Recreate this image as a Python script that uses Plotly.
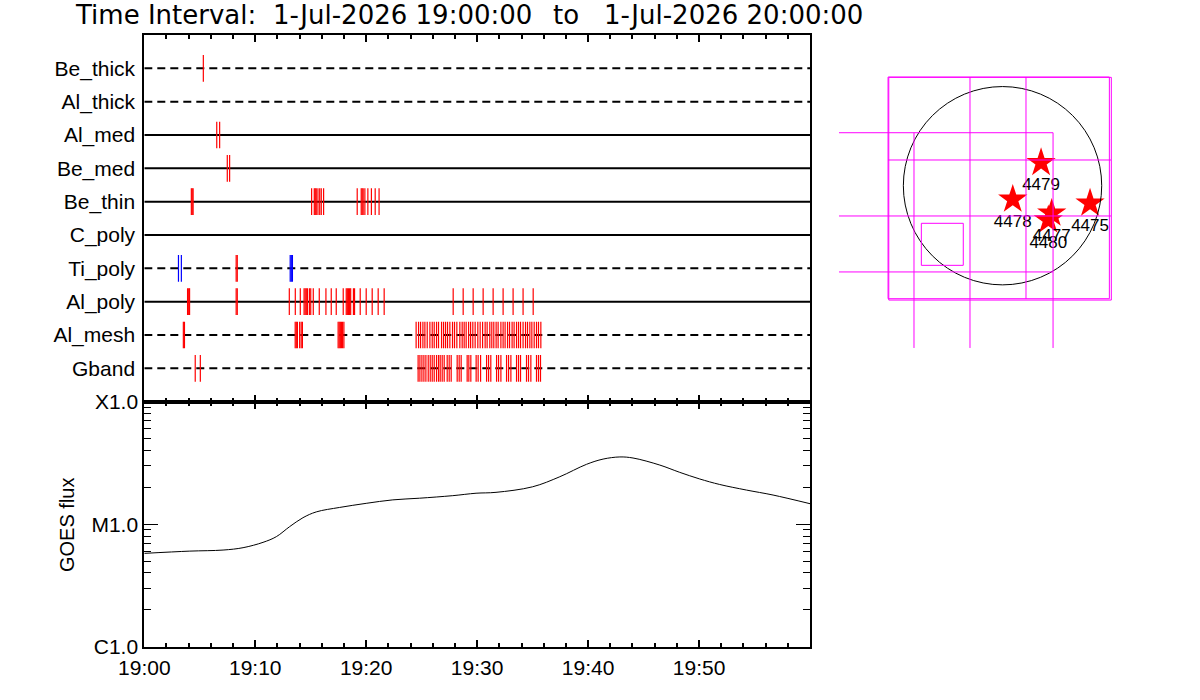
import plotly.graph_objects as go

# time in minutes after 19:00 UT, 1-Jul-2026
tick_minutes = [0, 10, 20, 30, 40, 50]
tick_labels = ["19:00", "19:10", "19:20", "19:30", "19:40", "19:50"]

channels = ["Be_thick", "Al_thick", "Al_med", "Be_med", "Be_thin",
            "C_poly", "Ti_poly", "Al_poly", "Al_mesh", "Gband"]
channel_dashed = [True, True, False, False, False, False, True, False, True, True]

# exposure times per channel (red = normal, blue = flagged)
be_thick = [5.32]
al_thick = []
al_med = [6.53, 6.79]
be_med = [7.48, 7.69]
be_thin = [4.24, 4.32, 4.40,
           15.08, 15.32, 15.41, 15.50, 15.65, 15.81, 15.95, 16.16,
           19.19, 19.55, 19.64, 19.73, 19.88, 20.15, 20.47, 20.81, 21.16]
c_poly = []
ti_poly = [8.28, 8.38]
ti_poly_blue = [3.08, 3.34, 13.15, 13.25, 13.35]
al_poly = [3.90, 4.00, 4.08, 8.28, 8.38,
           13.07, 13.61, 14.06, 14.40, 14.50, 14.60, 14.70, 14.88, 15.00, 15.23,
           15.77, 16.37, 16.85, 17.30, 17.93, 18.20, 18.30, 18.40, 18.50, 18.60,
           18.85, 18.95, 19.46, 20.00, 20.54, 21.08, 21.62,
           27.84, 28.74, 29.64, 30.54, 31.44, 32.34, 33.24, 34.14, 35.05]
al_mesh = [3.52, 3.62, 13.60, 13.70, 13.80, 14.00, 14.14, 14.25,
           17.47, 17.57, 17.67, 17.77, 17.87, 17.99,
           24.50, 24.72, 24.90, 25.11, 25.29, 25.50, 25.74, 25.95, 26.13, 26.34,
           26.52, 26.79, 26.97, 27.15, 27.33, 27.54, 27.78, 27.96, 28.17, 28.44,
           28.65, 28.83, 29.01, 29.23, 29.41, 29.61, 29.82, 30.06, 30.27, 30.49,
           30.72, 30.90, 31.14, 31.32, 31.50, 31.71, 31.89, 32.14, 32.34, 32.52,
           32.74, 32.92, 33.15, 33.33, 33.55, 33.73, 33.91, 34.14, 34.36, 34.54,
           34.75, 34.93, 35.14, 35.35, 35.53, 35.74]
gband = [4.59, 5.05,
         24.68, 24.84, 25.02, 25.20, 25.38, 25.59, 25.77, 25.95, 26.13, 26.34,
         26.52, 26.67, 26.85, 27.03, 27.30, 27.48, 27.66, 28.20, 28.38, 28.56,
         29.10, 29.25, 29.43, 29.91, 30.09, 30.31, 30.85, 31.03, 31.23, 31.75,
         31.93, 32.14, 32.65, 32.83, 33.04, 33.55, 33.73, 33.91, 34.45, 34.63,
         34.84, 35.35, 35.53, 35.71]

red_events = [be_thick, al_thick, al_med, be_med, be_thin,
              c_poly, ti_poly, al_poly, al_mesh, gband]
blue_events = [[], [], [], [], [], [], ti_poly_blue, [], [], []]

# GOES 1-8 A flux
goes_minutes = [0, 4.1, 7.1, 8.9, 10.7, 11.9, 13.1, 14.3, 15.5, 17.6, 20.0,
                22.4, 24.8, 27.8, 29.9, 31.7, 35.0, 37.45, 39.85, 41.35, 42.86,
                44.05, 46.46, 48.26, 50.06, 51.86, 54.27, 56.67, 60.0]
goes_flux = [5.78e-6, 6.03e-6, 6.15e-6, 6.43e-6, 7.11e-6, 7.91e-6, 9.55e-6,
             1.13e-5, 1.26e-5, 1.37e-5, 1.48e-5, 1.58e-5, 1.63e-5, 1.71e-5,
             1.79e-5, 1.82e-5, 2.02e-5, 2.44e-5, 3.08e-5, 3.40e-5, 3.54e-5,
             3.47e-5, 3.04e-5, 2.65e-5, 2.34e-5, 2.11e-5, 1.90e-5, 1.73e-5,
             1.47e-5]
goes_ticks = [1e-6, 1e-5, 1e-4]
goes_labels = ["C1.0", "M1.0", "X1.0"]

# active regions on the disk (arcsec)
ar_numbers = ["4475", "4477", "4478", "4479", "4480"]
ar_x = [847, 476, 99, 373, 443]
ar_y = [-170, -267, -132, 223, -332]
sun_radius = 960

# instrument field-of-view boxes and grid (arcsec)
fov_boxes = [(-1108, -1094, 1034, 1052), (-1101, -1107, 1053, 1049),
             (-786, -771, -380, -364)]
grid_lines = [(-1583, 513, 489, 513), (-1108, 249, 1050, 249),
              (-1583, -293, 1050, -293), (-1583, -835, 489, -835),
              (-857, 513, -857, -1571), (-315, 1052, -315, -1571),
              (227, 1052, 227, -1096), (489, 513, 489, -1571)]

title_parts = ["Time Interval:", "1-Jul-2026 19:00:00", "to", "1-Jul-2026 20:00:00"]
title_left = [73, 271, 551, 602]

FONT = "Liberation Sans"
TFONT = "DejaVu Sans"
W, H = 1200, 700


def px(x):
    return x / W


def py(y):
    return 1 - y / H


n = len(channels)
rows = [n - i for i in range(n)]

fig = go.Figure()

# baselines
for name, row, dashed in zip(channels, rows, channel_dashed):
    fig.add_trace(go.Scatter(x=[0, 60], y=[row, row], mode="lines",
                             line=dict(color="black", width=2,
                                       dash="8px,5px" if dashed else "solid"),
                             hoverinfo="skip", showlegend=False))


def tick_xy(event_lists):
    xs, ys = [], []
    for times, row in zip(event_lists, rows):
        for t in times:
            xs += [t, t, None]
            ys += [row - 0.4, row + 0.4, None]
    return xs, ys


rx, ry = tick_xy(red_events)
fig.add_trace(go.Scatter(x=rx, y=ry, mode="lines", line=dict(color="#ff0000", width=1.2),
                         showlegend=False))
bx, by = tick_xy(blue_events)
fig.add_trace(go.Scatter(x=bx, y=by, mode="lines", line=dict(color="#0000ff", width=1.2),
                         showlegend=False))

# GOES curve
fig.add_trace(go.Scatter(x=goes_minutes, y=goes_flux, mode="lines", xaxis="x2", yaxis="y2",
                         line=dict(color="black", width=1, shape="spline"),
                         showlegend=False))

# map
fig.add_trace(go.Scatter(x=ar_x, y=ar_y, mode="markers+text", xaxis="x3", yaxis="y3",
                         text=ar_numbers, textposition="bottom center",
                         textfont=dict(family=FONT, size=17, color="black"),
                         marker=dict(symbol="star", size=22, color="#ff0000",
                                     line=dict(width=0)),
                         showlegend=False))

shapes = [dict(type="circle", xref="x3", yref="y3", x0=-sun_radius, y0=-sun_radius,
               x1=sun_radius, y1=sun_radius, line=dict(color="black", width=1))]
for x0, y0, x1, y1 in fov_boxes:
    shapes.append(dict(type="rect", xref="x3", yref="y3", x0=x0, y0=y0, x1=x1, y1=y1,
                       line=dict(color="#ff00ff", width=1)))
for x0, y0, x1, y1 in grid_lines:
    shapes.append(dict(type="line", xref="x3", yref="y3", x0=x0, y0=y0, x1=x1, y1=y1,
                       line=dict(color="#ff00ff", width=1)))

annotations = []
for text, left in zip(title_parts, title_left):
    annotations.append(dict(text=text, x=px(left), y=py(15), xref="paper", yref="paper",
                            xanchor="left", yanchor="middle", showarrow=False,
                            font=dict(family=TFONT, size=26)))
annotations.append(dict(text="GOES flux", x=px(67), y=py(525), xref="paper", yref="paper",
                        xanchor="center", yanchor="middle", textangle=-90,
                        showarrow=False, font=dict(family=FONT, size=20)))

xdom = [px(144.3), px(810)]
axis_common = dict(showline=True, linewidth=2, linecolor="black", showgrid=False,
                   zeroline=False, automargin=False)

fig.update_layout(
    width=W, height=H, autosize=False,
    margin=dict(l=0, r=0, t=0, b=0),
    paper_bgcolor="white", plot_bgcolor="white",
    font=dict(family=FONT, size=21, color="black"),
    shapes=shapes,
    annotations=annotations,
    xaxis=dict(axis_common, domain=xdom, anchor="y", range=[0, 60],
               tickvals=tick_minutes, showticklabels=False, mirror="ticks",
               ticks="inside", ticklen=7, tickwidth=2, tickcolor="black",
               minor=dict(dtick=2, ticks="inside", ticklen=4, tickwidth=2,
                          tickcolor="black")),
    yaxis=dict(axis_common, domain=[py(401.7), py(35)], anchor="x",
               range=[0, 11], tickvals=rows, ticktext=channels, ticks="",
               ticklen=0, mirror=True, ticklabelstandoff=3),
    xaxis2=dict(axis_common, domain=xdom, anchor="y2", range=[0, 60],
                tickvals=tick_minutes, ticktext=tick_labels, mirror="ticks",
                ticks="inside", ticklen=7, tickwidth=2, tickcolor="black",
                ticklabelstandoff=1,
                minor=dict(dtick=2, ticks="inside", ticklen=4, tickwidth=2,
                           tickcolor="black")),
    yaxis2=dict(axis_common, domain=[py(646.7), py(401.7)], anchor="x2",
                type="log", range=[-6, -4], tickvals=goes_ticks, ticktext=goes_labels,
                mirror="ticks", ticks="inside", ticklen=14, tickwidth=1,
                tickcolor="black", ticklabelstandoff=0,
                minor=dict(dtick="D1", ticks="inside", ticklen=7, tickwidth=1,
                           tickcolor="black")),
    xaxis3=dict(domain=[px(830), px(1120)], anchor="y3", range=[-1670, 1137],
                visible=False),
    yaxis3=dict(domain=[py(355), py(60)], anchor="x3", range=[-1639, 1217],
                visible=False),
)

# drop the browser's default body margin so the figure sits at the page corner
fig.write_html("out.html", config={"displayModeBar": False},
               post_script="document.body.style.margin = '0px'; document.body.style.overflow = 'hidden';")
